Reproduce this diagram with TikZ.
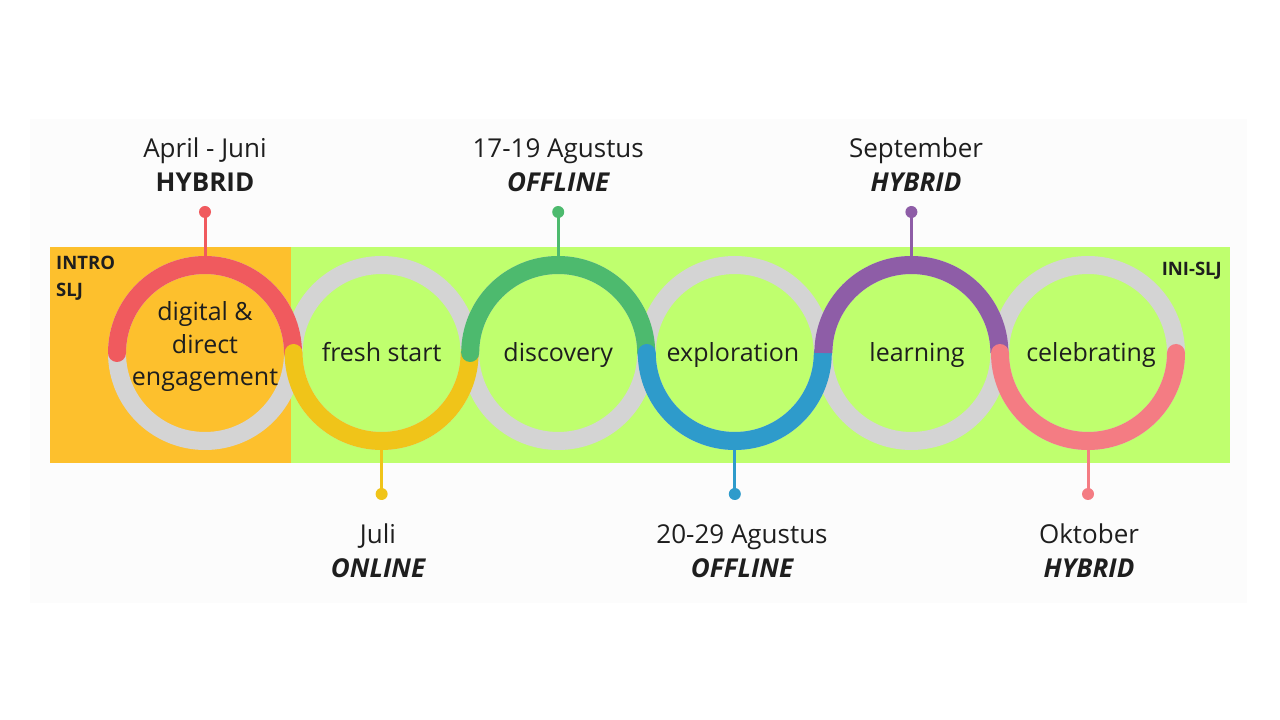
\documentclass[tikz,border=0pt]{standalone}
\usepackage{fontspec}
\setmainfont{Open Sans}
\usetikzlibrary{calc}
\definecolor{bgpage}{HTML}{FCFCFC}
\definecolor{bandgreen}{HTML}{BFFF6E}
\definecolor{bandorange}{HTML}{FDC02D}
\definecolor{ringgrey}{HTML}{D4D4D4}
\definecolor{cred}{HTML}{F05A5E}
\definecolor{cyellow}{HTML}{F0C419}
\definecolor{cgreen}{HTML}{4DBA6E}
\definecolor{cblue}{HTML}{2E9BCB}
\definecolor{cpurple}{HTML}{8E5DA7}
\definecolor{cpink}{HTML}{F47C83}
\definecolor{txt}{HTML}{1E1E1E}
\begin{document}
\begin{tikzpicture}[x=1pt,y=1pt,
  ring/.style={draw=ringgrey,line width=18pt},
  arcline/.style={line width=18pt,line cap=round},
  stem/.style={line width=3pt},
  lbl/.style={font=\fontsize{26}{30}\selectfont,text=txt,inner sep=0pt,anchor=base},
  inner/.style={font=\fontsize{25}{32.5}\selectfont,text=txt,inner sep=0pt,align=center},
  tag/.style={font=\fontsize{18.5}{27}\selectfont\bfseries,text=txt,inner sep=0pt},
]
\useasboundingbox (0,0) rectangle (1280,720);
\fill[white] (0,0) rectangle (1280,720);
\fill[bgpage] (30,117) rectangle (1247,601);
% band
\fill[bandgreen] (50,257) rectangle (1230,473);
\fill[bandorange] (50,257) rectangle (291,473);
% centres
\foreach \i/\x in {1/205,2/381.6,3/558.2,4/734.8,5/911.4,6/1088}{
  \coordinate (c\i) at (\x,367);
}
% grey rings
\foreach \i in {1,...,6}{ \draw[ring] (c\i) circle[radius=88]; }
% coloured arcs
\draw[arcline,cred] (c1) ++(180:88) arc[start angle=180,end angle=0,radius=88];
\draw[arcline,cyellow] (c2) ++(180:88) arc[start angle=180,end angle=360,radius=88];
\draw[arcline,cgreen] (c3) ++(180:88) arc[start angle=180,end angle=0,radius=88];
\draw[arcline,cblue] (c4) ++(180:88) arc[start angle=180,end angle=360,radius=88];
\draw[line width=18pt,line cap=butt,cpurple] (c5) ++(180:88) arc[start angle=180,end angle=0,radius=88];
\draw[arcline,cpink] (c6) ++(180:88) arc[start angle=180,end angle=360,radius=88];
% stems and dots
\foreach \i/\c/\s in {1/cred/1,2/cyellow/-1,3/cgreen/1,4/cblue/-1,5/cpurple/1,6/cpink/-1}{
  \coordinate (e\i) at ($(c\i)+(0,\s*80)$);
  \coordinate (d\i) at ($(c\i)+(0,\s*141)$);
  \draw[stem,\c] (e\i) -- (d\i);
  \fill[\c] (d\i) circle[radius=6];
}
% top labels
\node[lbl] (t1a) at (205,562) {April - Juni};
\node[lbl] (t1b) at (205,528) {\bfseries HYBRID};
\node[lbl] (t3a) at (558.2,562) {17-19 Agustus};
\node[lbl] (t3b) at (558.2,528) {\bfseries\itshape OFFLINE};
\node[lbl] (t5a) at (916,562) {September};
\node[lbl] (t5b) at (916,528) {\bfseries\itshape HYBRID};
% bottom labels
\node[lbl] (b2a) at (378,176) {Juli};
\node[lbl] (b2b) at (378,142) {\bfseries\itshape ONLINE};
\node[lbl] (b4a) at (742,176) {20-29 Agustus};
\node[lbl] (b4b) at (742,142) {\bfseries\itshape OFFLINE};
\node[lbl] (b6a) at (1089,176) {Oktober};
\node[lbl] (b6b) at (1089,142) {\bfseries\itshape HYBRID};
% inner texts
\node[inner] (n1) at (205,373) {digital \&\\direct\\engagement};
\node[inner,anchor=base] (n2) at (381.6,358) {fresh start};
\node[inner,anchor=base] (n3) at (558.2,358) {discovery};
\node[inner,anchor=base] (n4) at (733,358) {exploration};
\node[inner,anchor=base] (n5) at (917,358) {learning};
\node[inner,anchor=base] (n6) at (1091,358) {celebrating};
% tags
\node[tag,anchor=north west,align=left] (intro) at (56,464) {INTRO\\SLJ};
\node[tag,anchor=north east] (ini) at (1222,458) {INI-SLJ};
\end{tikzpicture}
\end{document}
